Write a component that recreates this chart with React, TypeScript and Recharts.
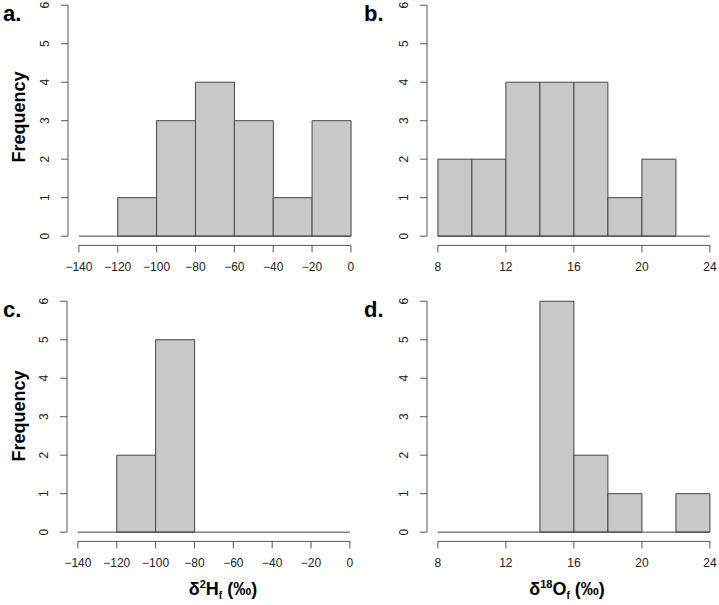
import React from "react";
import { ComposedChart, Bar, XAxis, YAxis, ReferenceLine } from "recharts";

// ---- data ----
const breaksH = [-140, -120, -100, -80, -60, -40, -20, 0];
const breaksO = [8, 10, 12, 14, 16, 18, 20, 22, 24];
const countsA = [0, 1, 3, 4, 3, 1, 3];
const countsB = [2, 2, 4, 4, 4, 1, 2, 0];
const countsC = [0, 2, 5, 0, 0, 0, 0];
const countsD = [0, 0, 0, 6, 2, 1, 0, 1];
const xTicksH = [-140, -120, -100, -80, -60, -40, -20, 0];
const xTicksO = [8, 12, 16, 20, 24];
const yTicks = [0, 1, 2, 3, 4, 5, 6];
const panelLetters = ["a.", "b.", "c.", "d."];

const FONT = "'Liberation Sans', Arial, Helvetica, sans-serif";
const AXIS = "#555";
const BAR_FILL = "#c8c8c8";
const BAR_STROKE = "#444";

const PW = 293.8;
const PH = 249.4;
const YW = 70;
const MT = 20;
const MR = 10;
const MB = 10;
const XH = 30;

function binsOf(breaks: number[], counts: number[]) {
  return counts.map((c, i) => ({ mid: (breaks[i] + breaks[i + 1]) / 2, count: c }));
}

const fmt = (v: number) => (v < 0 ? "\u2212" + Math.abs(v) : String(v));

const XTick = (props: any) => {
  const { x, y, payload } = props;
  return (
    <text x={x} y={y} textAnchor="middle" dominantBaseline="central" fontSize={12} fill="#222" fontFamily={FONT}>
      {fmt(payload.value)}
    </text>
  );
};

const YTick = (props: any) => {
  const { x, y, payload } = props;
  return (
    <text
      x={x}
      y={y}
      transform={`rotate(-90, ${x}, ${y})`}
      textAnchor="middle"
      dominantBaseline="central"
      fontSize={12}
      fill="#222"
      fontFamily={FONT}
    >
      {payload.value}
    </text>
  );
};

function Hist({
  breaks,
  counts,
  ticks,
  left,
  top,
}: {
  breaks: number[];
  counts: number[];
  ticks: number[];
  left: number;
  top: number;
}) {
  const data = binsOf(breaks, counts);
  const lo = breaks[0];
  const hi = breaks[breaks.length - 1];
  const ext = (hi - lo) * 0.04;
  const yLo = 0 - 6 * 0.04;
  const yHi = 6 + 6 * 0.04;
  const W = YW + PW + MR;
  const H = MT + PH + XH + MB;
  return (
    <div style={{ position: "absolute", left: left - YW, top: top - MT, width: W, height: H }}>
      <ComposedChart
        width={W}
        height={H}
        data={data}
        margin={{ top: MT, right: MR, bottom: MB, left: 0 }}
        barCategoryGap={0}
        barGap={0}
      >
        <XAxis
          dataKey="mid"
          type="number"
          domain={[lo - ext, hi + ext]}
          ticks={ticks}
          allowDataOverflow
          axisLine={false}
          tickLine={{ stroke: AXIS }}
          stroke={AXIS}
          tickSize={7}
          tickMargin={15}
          height={XH}
          interval={0}
          tick={<XTick />}
        />
        <YAxis
          type="number"
          domain={[yLo, yHi]}
          ticks={yTicks}
          allowDataOverflow
          axisLine={false}
          tickLine={{ stroke: AXIS }}
          stroke={AXIS}
          tickSize={7}
          tickMargin={16}
          width={YW}
          interval={0}
          tick={<YTick />}
        />
        <Bar dataKey="count" fill={BAR_FILL} stroke={BAR_STROKE} strokeWidth={1} isAnimationActive={false} />
        <ReferenceLine
          segment={[
            { x: lo, y: 0 },
            { x: hi, y: 0 },
          ]}
          stroke={BAR_STROKE}
          strokeWidth={1}
        />
        <ReferenceLine
          segment={[
            { x: lo, y: yLo },
            { x: hi, y: yLo },
          ]}
          stroke={AXIS}
          strokeWidth={1}
          ifOverflow="visible"
        />
        <ReferenceLine
          segment={[
            { x: lo - ext, y: 0 },
            { x: lo - ext, y: 6 },
          ]}
          stroke={AXIS}
          strokeWidth={1}
          ifOverflow="visible"
        />
      </ComposedChart>
    </div>
  );
}

export default function App() {
  return (
    <div
      style={{
        position: "absolute",
        left: 0,
        top: 0,
        width: 719,
        height: 605,
        overflow: "hidden",
        background: "#fff",
        fontFamily: FONT,
      }}
    >
      <Hist breaks={breaksH} counts={countsA} ticks={xTicksH} left={68.1} top={-4.2} />
      <Hist breaks={breaksO} counts={countsB} ticks={xTicksO} left={427.1} top={-4.2} />
      <Hist breaks={breaksH} counts={countsC} ticks={xTicksH} left={67.1} top={291.8} />
      <Hist breaks={breaksO} counts={countsD} ticks={xTicksO} left={427.1} top={291.8} />
      <svg
        width={719}
        height={605}
        style={{ position: "absolute", left: 0, top: 0, pointerEvents: "none" }}
        fontFamily={FONT}
      >
        <g fontWeight="bold" fontSize={22} fill="#000">
          <text x={3} y={21}>{panelLetters[0]}</text>
          <text x={364} y={21}>{panelLetters[1]}</text>
          <text x={3} y={317}>{panelLetters[2]}</text>
          <text x={364} y={317}>{panelLetters[3]}</text>
        </g>
        <g fontWeight="bold" fontSize={18} fill="#000">
          <text x={25} y={117} textAnchor="middle" transform="rotate(-90, 25, 117)">Frequency</text>
          <text x={25} y={416} textAnchor="middle" transform="rotate(-90, 25, 416)">Frequency</text>
          <text x={223} y={595} textAnchor="middle">
            <tspan>δ</tspan>
            <tspan fontSize={11} dy={-7}>2</tspan>
            <tspan dy={7}>H</tspan>
            <tspan fontSize={10} dy={4}>f</tspan>
            <tspan dy={-4}> (‰)</tspan>
          </text>
          <text x={567} y={595} textAnchor="middle">
            <tspan>δ</tspan>
            <tspan fontSize={11} dy={-7}>18</tspan>
            <tspan dy={7}>O</tspan>
            <tspan fontSize={10} dy={4}>f</tspan>
            <tspan dy={-4}> (‰)</tspan>
          </text>
        </g>
      </svg>
    </div>
  );
}
